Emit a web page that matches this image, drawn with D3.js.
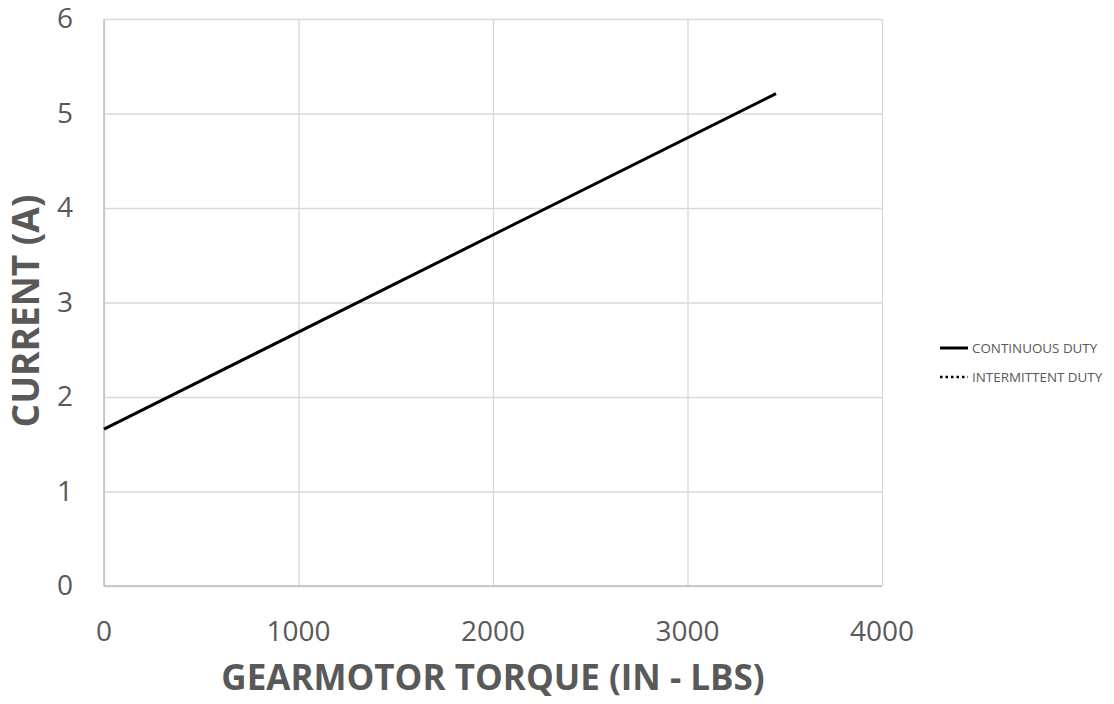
<!DOCTYPE html>
<html>
<head>
<meta charset="utf-8">
<script src="https://cdn.jsdelivr.net/npm/d3@7"></script>
<style>
  body { margin: 0; background: #fff; }
  text { font-family: "Open Sans", "Liberation Sans", sans-serif; fill: #595959; }
</style>
</head>
<body>
<script>
"use strict";
// data
var seriesNames = ["CONTINUOUS DUTY", "INTERMITTENT DUTY"];
var continuousTorque = [0, 3455];
var continuousCurrent = [1.66, 5.21];
var intermittentTorque = [];
var intermittentCurrent = [];
var xTicks = [0, 1000, 2000, 3000, 4000];
var yTicks = [0, 1, 2, 3, 4, 5, 6];

var W = 1114, H = 704;
var plot = {left: 104, right: 882, top: 19, bottom: 586};

var svg = d3.select("body").append("svg")
    .attr("width", W)
    .attr("height", H);

var x = d3.scaleLinear().domain([0, 4000]).range([plot.left, plot.right]);
var y = d3.scaleLinear().domain([0, 6]).range([plot.bottom, plot.top]);

// gridlines
svg.append("g")
    .attr("transform", "translate(0," + plot.bottom + ")")
    .call(d3.axisBottom(x).tickValues(xTicks).tickSize(-(plot.bottom - plot.top)).tickFormat(""))
    .call(function(g) {
        g.select(".domain").remove();
        g.selectAll("line").attr("stroke", "#d9d9d9").attr("stroke-width", 1.3);
    });
svg.append("g")
    .attr("transform", "translate(" + plot.left + ",0)")
    .call(d3.axisLeft(y).tickValues(yTicks).tickSize(-(plot.right - plot.left)).tickFormat(""))
    .call(function(g) {
        g.select(".domain").remove();
        g.selectAll("line").attr("stroke", "#d9d9d9").attr("stroke-width", 1.3);
    });

// axis lines
svg.append("line")
    .attr("x1", plot.left).attr("x2", plot.left)
    .attr("y1", plot.top).attr("y2", plot.bottom)
    .attr("stroke", "#bfbfbf").attr("stroke-width", 1.5);
svg.append("line")
    .attr("x1", plot.left).attr("x2", plot.right)
    .attr("y1", plot.bottom).attr("y2", plot.bottom)
    .attr("stroke", "#bfbfbf").attr("stroke-width", 1.5);

// tick labels
svg.append("g").selectAll("text")
    .data(xTicks)
    .enter().append("text")
    .attr("x", function(d) { return x(d); })
    .attr("y", 641)
    .attr("text-anchor", "middle")
    .style("font-size", "28px")
    .text(function(d) { return d; });
svg.append("g").selectAll("text")
    .data(yTicks)
    .enter().append("text")
    .attr("x", 73)
    .attr("y", function(d) { return y(d) + 9; })
    .attr("text-anchor", "end")
    .style("font-size", "28px")
    .text(function(d) { return d; });

// axis titles
svg.append("text")
    .attr("x", 493)
    .attr("y", 690)
    .attr("text-anchor", "middle")
    .style("font-size", "35px")
    .style("font-weight", "bold")
    .text("GEARMOTOR TORQUE (IN - LBS)");
svg.append("text")
    .attr("transform", "translate(39,311) rotate(-90)")
    .attr("text-anchor", "middle")
    .style("font-size", "37px")
    .style("font-weight", "bold")
    .text("CURRENT (A)");

// lines
var line = d3.line()
    .x(function(d) { return x(d[0]); })
    .y(function(d) { return y(d[1]); });

svg.append("path")
    .datum(d3.zip(continuousTorque, continuousCurrent))
    .attr("d", line)
    .attr("fill", "none")
    .attr("stroke", "#000")
    .attr("stroke-width", 3);

if (intermittentTorque.length) {
    svg.append("path")
        .datum(d3.zip(intermittentTorque, intermittentCurrent))
        .attr("d", line)
        .attr("fill", "none")
        .attr("stroke", "#000")
        .attr("stroke-width", 3)
        .attr("stroke-dasharray", "2,3");
}

// legend
var legend = svg.append("g").selectAll("g")
    .data(seriesNames)
    .enter().append("g")
    .attr("transform", function(d, i) { return "translate(940," + (348 + i * 29) + ")"; });
legend.append("line")
    .attr("x1", 0).attr("x2", 28)
    .attr("stroke", "#000")
    .attr("stroke-width", function(d, i) { return i ? 2.5 : 3; })
    .attr("stroke-dasharray", function(d, i) { return i ? "2.5,3" : null; });
legend.append("text")
    .attr("x", 32)
    .attr("y", 5)
    .style("font-size", "13.4px")
    .text(function(d) { return d; });
</script>
</body>
</html>
